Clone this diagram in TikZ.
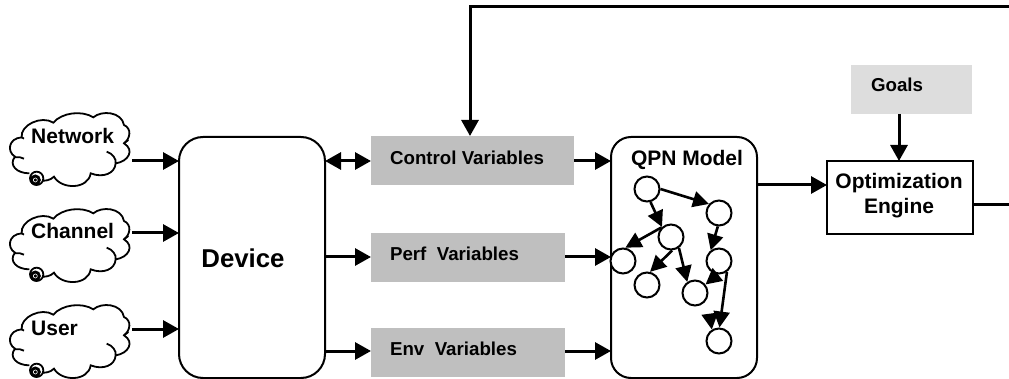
\documentclass[tikz,border=0pt]{standalone}
\usepackage{fontspec}
\setmainfont{Liberation Sans}
\usetikzlibrary{arrows.meta}
\definecolor{boxgray}{HTML}{BFBFBF}
\definecolor{goalgray}{HTML}{DDDDDD}
\tikzset{
  x=1pt,y=-1pt,
  conn/.style={line width=3pt,draw=black},
  arr/.style={conn,-{Triangle[length=16pt,width=17pt]}},
  darr/.style={conn,{Triangle[length=16pt,width=17pt]}-{Triangle[length=16pt,width=17pt]}},
  sarr/.style={line width=2.6pt,draw=black,-{Triangle[length=16pt,width=16pt]}},
  rbox/.style={draw=black,line width=2pt,rounded corners=24pt,fill=white,inner sep=0pt},
  graybox/.style={fill=boxgray,inner sep=0pt},
  place/.style={circle,draw=black,line width=2pt,minimum size=25pt,inner sep=0pt,fill=white},
  lbl/.style={inner sep=0pt,align=center},
  small/.style={font=\bfseries\fontsize{18.7}{21}\selectfont},
  mid/.style={font=\bfseries\fontsize{21}{25}\selectfont},
  cloudpic/.pic={
    \begin{scope}[scale=1/3,line width=1.8pt,draw=black]
    \draw (88,190) .. controls (50,190) and (25,165) .. (45,140)
      .. controls (20,125) and (25,85) .. (65,82)
      .. controls (60,45) and (125,15) .. (160,38)
      .. controls (185,8) and (245,0) .. (280,22)
      .. controls (305,0) and (365,5) .. (372,45)
      .. controls (395,55) and (392,85) .. (372,100)
      .. controls (405,120) and (385,155) .. (347,160)
      .. controls (345,190) and (310,205) .. (272,190)
      .. controls (265,238) and (185,240) .. (162,200)
      .. controls (150,212) and (135,212) .. (128,212);
    \draw (320,125) .. controls (338,130) and (350,148) .. (347,160);
    \draw (45,142) .. controls (55,140) and (65,142) .. (72,146);
    \draw (372,100) -- (385,90);
    \draw (65,82) -- (72,86);
    \draw (110,205) circle (20);
    \draw[line width=1.6pt,fill=black] (106,210) circle (14);
    \draw[white,line width=.6pt] (106,210) circle (6);
    \end{scope}
  }
}
\begin{document}
\begin{tikzpicture}
\useasboundingbox (0,0) rectangle (1009,379);
% clouds
\pic at (0,110) {cloudpic};
\pic at (0,206) {cloudpic};
\pic at (0,302) {cloudpic};
\node[lbl,mid,anchor=west] (network) at (31,136) {Network};
\node[lbl,mid,anchor=west] (channel) at (31,231) {Channel};
\node[lbl,mid,anchor=west] (user) at (31,328) {User};
\coordinate (netout) at (132,161);
\coordinate (chanout) at (132,233);
\coordinate (userout) at (132,329);
% main boxes
\node[rbox,minimum width=146pt,minimum height=241pt,anchor=north west] (device) at (178,136) {};
\node[lbl,font=\bfseries\fontsize{25.8}{28}\selectfont] (devlabel) at (243,258) {Device};
\node[graybox,minimum width=203pt,minimum height=49pt,anchor=north west] (control) at (371,136) {};
\node[lbl,small] (controllabel) at (467,158) {Control Variables};
\node[graybox,minimum width=194pt,minimum height=49pt,anchor=north west] (perf) at (371,233) {};
\node[lbl,small] (perflabel) at (454.5,254) {Perf\ \ Variables};
\node[graybox,minimum width=194pt,minimum height=49pt,anchor=north west] (env) at (371,328) {};
\node[lbl,small] (envlabel) at (453.5,349) {Env\ \ Variables};
\node[rbox,rounded corners=20pt,minimum width=146pt,minimum height=241pt,anchor=north west] (qpn) at (610,136) {};
\node[lbl,mid] (qpnlabel) at (687,160) {QPN Model};
\node[draw=black,line width=2pt,minimum width=146pt,minimum height=73pt,anchor=north west,inner sep=0pt] (opt) at (826,160) {};
\node[lbl,mid] (optlabel) at (899,196) {Optimization\\Engine};
\node[fill=goalgray,inner sep=0pt,minimum width=121pt,minimum height=49pt,anchor=north west] (goals) at (851,65) {};
\node[lbl,small] (goalslabel) at (897,85) {Goals};
% connector ends
\coordinate (devin1) at (179,161);
\coordinate (devin2) at (179,233);
\coordinate (devin3) at (179,329);
\coordinate (devout1) at (325,161);
\coordinate (devout2) at (324,257);
\coordinate (devout3) at (324,351);
\coordinate (ctrlin) at (371,161);
\coordinate (perfin) at (371,257);
\coordinate (envin) at (371,351);
\coordinate (ctrlout) at (574,161);
\coordinate (perfout) at (565,257);
\coordinate (envout) at (565,351);
\coordinate (qin1) at (611,161);
\coordinate (qin2) at (611,257);
\coordinate (qin3) at (611,351);
\coordinate (qout) at (756,185);
\coordinate (optin) at (827,185);
\coordinate (goalout) at (899,114);
\coordinate (optgoal) at (899,161);
\coordinate (optout) at (972,205);
\coordinate (rightend) at (1009,205);
\coordinate (topright) at (1009,7);
\coordinate (topleft) at (470,7);
\coordinate (ctrltop) at (470,136);
\draw[arr] (netout) -- (devin1);
\draw[arr] (chanout) -- (devin2);
\draw[arr] (userout) -- (devin3);
\draw[darr] (devout1) -- (ctrlin);
\draw[arr] (devout2) -- (perfin);
\draw[arr] (devout3) -- (envin);
\draw[arr] (ctrlout) -- (qin1);
\draw[arr] (perfout) -- (qin2);
\draw[arr] (envout) -- (qin3);
\draw[arr] (qout) -- (optin);
\draw[arr] (goalout) -- (optgoal);
\draw[conn] (optout) -- (rightend);
\draw[arr] (topright) -- (topleft) -- (ctrltop);
% QPN places
\node[place] (pa) at (647,189) {};
\node[place] (pb) at (719,213) {};
\node[place] (pc) at (671,237) {};
\node[place] (pd) at (623,261) {};
\node[place] (pe) at (647,285) {};
\node[place] (pf) at (719,261) {};
\node[place] (pg) at (695,293) {};
\node[place] (ph) at (719,341) {};
\coordinate (hstub) at (710,316);
\draw[sarr] (pa.0) -- (pb.138);
\draw[sarr] (pa.-75) -- (pc.132);
\draw[sarr] (pc.135) -- (pd.80);
\draw[sarr] (pc.-85) -- (pe.77);
\draw[sarr] (pc.-54) -- (pg.125);
\draw[sarr] (pb.-95) -- (pf.128);
\draw[sarr] (pf.-95) -- (pg.39);
\draw[sarr] (hstub) -- (ph.122);
\draw[sarr] (pf.-54) -- (ph.88);
\end{tikzpicture}
\end{document}
